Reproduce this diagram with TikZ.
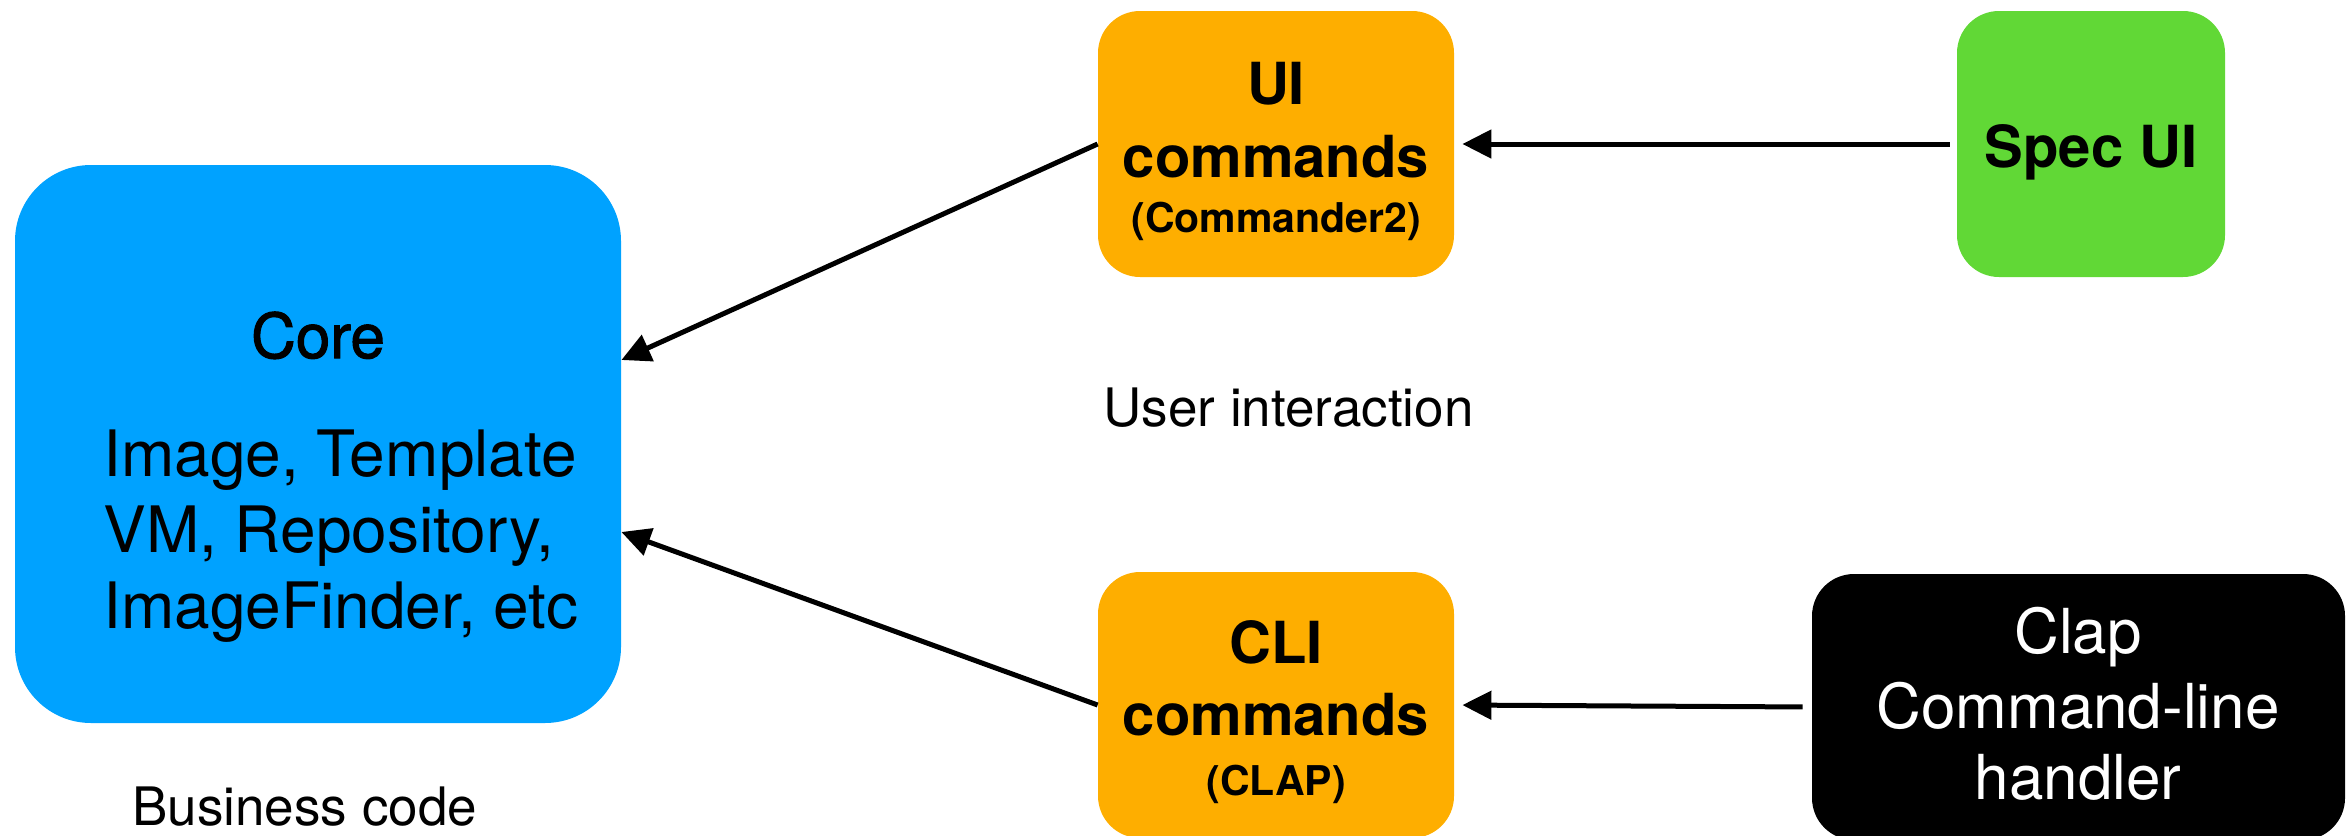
\documentclass[tikz,border=0pt]{standalone}
\usepackage{fontspec}
\setmainfont{TeX Gyre Heros}
\newfontfamily\medfont{TeX Gyre Heros}[FakeBold=1.6]
\usetikzlibrary{arrows.meta,calc}
\definecolor{coreblue}{RGB}{0,162,255}
\definecolor{cmdorange}{RGB}{254,174,0}
\definecolor{specgreen}{RGB}{97,216,54}
\tikzset{
  box/.style={draw=none, inner sep=0pt, minimum height=133pt},
  txt/.style={anchor=base, inner sep=0pt, text=black},
  bigtext/.style={font=\fontsize{29}{34}\selectfont\bfseries},
  smalltext/.style={font=\fontsize{20.5}{24}\selectfont\bfseries},
  regtext/.style={font=\fontsize{32}{38}\selectfont},
  claptext/.style={font=\fontsize{31}{37}\selectfont},
  captext/.style={font=\fontsize{26.5}{32}\selectfont},
  conn/.style={line width=2.5pt, -{Triangle[length=14.5pt,width=14pt]}},
}
\begin{document}
\begin{tikzpicture}[x=0.5pt,y=-0.5pt]
\useasboundingbox (0,0) rectangle (2348,835);
% boxes
\node[box, fill=coreblue, minimum width=303pt, minimum height=279pt, rounded corners=38pt] (core) at (318,444) {};
\node[box, fill=cmdorange, minimum width=178pt, rounded corners=21pt] (ui) at (1276,144) {};
\node[box, fill=specgreen, minimum width=134pt, rounded corners=21pt] (spec) at (2091,144) {};
\node[box, fill=cmdorange, minimum width=178pt, rounded corners=21pt] (cli) at (1276,705) {};
\node[box, fill=black, minimum width=266.5pt, rounded corners=21pt] (clap) at (2078.5,707) {};
% core texts
\node[txt, font=\fontsize{31}{36}\medfont] (coret) at (318,358) {Core};
\node[txt, regtext, anchor=base west] (core1) at (103,476) {Image, Template};
\node[txt, regtext, anchor=base west] (core2) at (103,552) {VM, Repository,};
\node[txt, regtext, anchor=base west] (core3) at (103,628) {ImageFinder, etc};
% UI commands
\node[txt, bigtext] (ui1) at (1276,104) {UI};
\node[txt, bigtext] (ui2) at (1276,177) {commands};
\node[txt, smalltext] (ui3) at (1276,232) {(Commander2)};
% Spec UI
\node[txt, bigtext] (spect) at (2091,167) {Spec UI};
% CLI commands
\node[txt, bigtext] (cli1) at (1276,663) {CLI};
\node[txt, bigtext] (cli2) at (1276,735) {commands};
\node[txt, smalltext] (cli3) at (1276,795) {(CLAP)};
% Clap
\node[txt, claptext, text=white] (clap1) at (2078,653) {Clap};
\node[txt, claptext, text=white] (clap2) at (2078,728) {Command-line};
\node[txt, claptext, text=white] (clap3) at (2078,799) {handler};
% captions
\node[txt, captext, anchor=base west] (userint) at (1103,426) {User interaction};
\node[txt, captext, anchor=base west] (business) at (132,825) {Business code};
% connectors
\coordinate (coreA) at ($(core.east)+(0,-84)$);
\coordinate (coreB) at ($(core.east)+(0,88)$);
\draw[conn] (ui.west) -- (coreA);
\draw[conn] (cli.west) -- (coreB);
\draw[conn, shorten <=3.5pt, shorten >=4pt] (spec.west) -- (ui.east);
\draw[conn, shorten <=4.5pt, shorten >=4pt] (clap.west) -- (cli.east);
\end{tikzpicture}
\end{document}
